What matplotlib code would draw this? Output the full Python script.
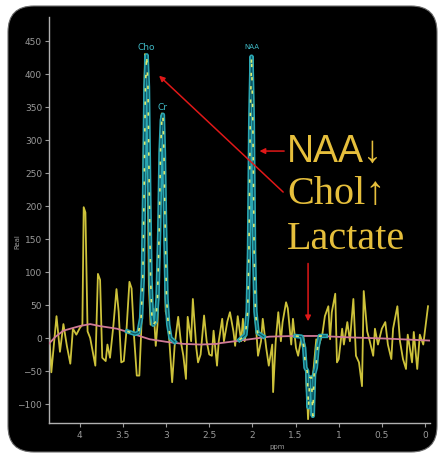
import matplotlib
matplotlib.use("Agg")
import matplotlib.pyplot as plt
from matplotlib.patches import FancyBboxPatch

# measured spectrum (ppm, real)
data_ppm = [4.37, 4.33, 4.27, 4.23, 4.19, 4.15, 4.11, 4.08, 4.04, 4.00, 3.97, 3.955, 3.935, 3.91,
            3.88, 3.82, 3.79, 3.765, 3.74, 3.70, 3.68, 3.65, 3.61, 3.575, 3.55, 3.52, 3.49, 3.46,
            3.425, 3.40, 3.37, 3.34, 3.31, 3.29, 3.275, 3.26, 3.245, 3.23, 3.215, 3.20, 3.18,
            3.16, 3.145, 3.12, 3.10, 3.08, 3.065, 3.05, 3.035, 3.02, 3.005, 2.98, 2.93, 2.90,
            2.86, 2.83, 2.80, 2.77, 2.75, 2.71, 2.69, 2.65, 2.63, 2.60, 2.56, 2.53, 2.50, 2.47,
            2.45, 2.41, 2.39, 2.35, 2.33, 2.29, 2.26, 2.22, 2.20, 2.17, 2.13, 2.11, 2.09, 2.07,
            2.045, 2.025, 2.01, 1.995, 1.98, 1.965, 1.935, 1.90, 1.88, 1.84, 1.81, 1.77, 1.76,
            1.73, 1.70, 1.67, 1.65, 1.61, 1.59, 1.55, 1.53, 1.495, 1.47, 1.44, 1.41, 1.39, 1.355,
            1.33, 1.31, 1.30, 1.26, 1.24, 1.19, 1.16, 1.12, 1.10, 1.08, 1.04, 1.02, 1.00, 0.96,
            0.94, 0.90, 0.87, 0.83, 0.80, 0.765, 0.73, 0.71, 0.67, 0.64, 0.60, 0.58, 0.545, 0.50,
            0.46, 0.43, 0.39, 0.37, 0.32, 0.29, 0.255, 0.22, 0.20, 0.15, 0.13, 0.09, 0.06, 0.02,
            -0.035]
data_val = [45, -52, 33, -21, 21, -12, -39, 14, 5, 15, 20, 198, 190, 10,
            0, -42, 97, 88, -30, -35, -10, -30, 20, 74, 40, -37, -35, 10,
            85, 75, 0, -57, -57, 5, 60, 280, 430, 425, 280, 80, 20,
            30, 44, -12, 20, 120, 290, 340, 335, 200, 40, 29, -67, -10,
            32, -5, -27, -62, 32, -5, 59, -15, -37, -25, 34, -5, -25, -27,
            11, -42, -5, 29, -5, 25, 39, 10, -12, 33, -5, 29, -5, 10,
            150, 400, 426, 420, 200, 30, -27, -5, 29, -15, -42, -10, -82,
            -5, 39, -5, 24, 54, 45, -10, 29, -15, -27, -5, 3, -20, -123,
            -73, -118, -60, -2, -15, 5, 33, 48, -2, 39, 67, -37, -32, 14,
            -10, 24, -5, 59, -27, -37, -73, 71, 10, -5, -27, 14, -10, 14,
            24, -10, -32, 14, 48, -5, -32, -47, 5, -37, 9, -47, 5, -10,
            48]

# baseline
base_ppm = [4.36, 4.28, 4.19, 4.00, 3.88, 3.77, 3.57, 3.47, 3.38, 3.19, 3.09, 2.99, 2.80, 2.60,
            2.41, 2.38, 2.09, 1.80, 1.50, 1.22, 0.90, 0.44, -0.058]
base_val = [-9, 2, 11, 18, 21, 18, 14, 10, 6, -2, -4, -6, -9, -10,
            -9, -8, -3, 2, 3, 3, 1, -1, -4]

# fitted peaks
chocr_ppm = [3.45, 3.36, 3.32, 3.29, 3.27, 3.255, 3.24, 3.225, 3.21, 3.195, 3.18, 3.165, 3.15,
             3.12, 3.10, 3.08, 3.065, 3.05, 3.037, 3.025, 3.01, 2.995, 2.975, 2.95, 2.90]
chocr_val = [10, 6, 8, 30, 90, 220, 380, 428, 380, 220, 90, 35, 20,
             25, 60, 160, 280, 330, 338, 280, 160, 60, 20, 0, -6]
naa_ppm = [2.15, 2.08, 2.055, 2.04, 2.025, 2.01, 1.995, 1.98, 1.965, 1.94, 1.87]
naa_val = [-3, 5, 40, 130, 330, 426, 330, 130, 40, 8, 2]
lac_ppm = [1.50, 1.43, 1.40, 1.385, 1.365, 1.35, 1.335, 1.315, 1.30, 1.285, 1.265, 1.245, 1.22, 1.15]
lac_val = [3, 2, -15, -45, -50, -105, -60, -60, -118, -55, -45, -15, 3, 3]

peak_names = ["Cho", "Cr", "NAA"]
peak_pos = [3.225, 3.037, 2.01]
peak_lab_y = [441, 350, 442]
peak_lab_size = [6.5, 6.5, 5]

y_ticks = [-100, -50, 0, 50, 100, 150, 200, 250, 300, 350, 400, 450]
x_ticks = [4, 3.5, 3, 2.5, 2, 1.5, 1, 0.5, 0]
x_labels = ["4", "3.5", "3", "2.5", "2", "1.5", "1", "0.5", "0"]

W, H = 441, 456
fig = plt.figure(figsize=(W / 100, H / 100), dpi=100, facecolor="white")

# black rounded panel behind the axes
panel = FancyBboxPatch((0.08, 0.03), 4.29, 4.46, boxstyle="round,pad=0,rounding_size=0.26",
                       transform=fig.dpi_scale_trans, facecolor="black",
                       edgecolor="#6a6a6a", linewidth=0.8, zorder=-10)
fig.patches.append(panel)

ax = fig.add_axes([49 / W, 1 - 424 / H, (430 - 49) / W, (424 - 18) / H], zorder=1)
ax.set_facecolor("none")
ax.set_xlim(4.357, -0.058)
ax.set_ylim(-128.8, 486)

gray = "#9a9a9a"
for s in ["top", "right"]:
    ax.spines[s].set_visible(False)
for s in ["left", "bottom"]:
    ax.spines[s].set_color("#b0b0b0")
    ax.spines[s].set_linewidth(1.0)
ax.set_yticks(y_ticks)
ax.set_xticks(x_ticks)
ax.set_xticklabels(x_labels)
ax.tick_params(colors=gray, labelsize=6.5, length=3, width=0.8, pad=2)
ax.set_xlabel("ppm", color=gray, fontsize=5)
ax.xaxis.set_label_coords(0.6, -0.05)
ax.set_ylabel("Real", color=gray, fontsize=5)
ax.yaxis.set_label_coords(-0.075, 0.45)

# spectrum, baseline, fit
ax.plot(data_ppm, data_val, color="#cdc23a", lw=1.3, zorder=2)
ax.plot(base_ppm, base_val, color="#d07a96", lw=1.3, zorder=3)
for px, pv in [(chocr_ppm, chocr_val), (naa_ppm, naa_val), (lac_ppm, lac_val)]:
    ax.plot(px, pv, color="#2aa6b2", lw=3.2, zorder=4)
    ax.plot(px, pv, color="#0e5560", lw=0.9, zorder=5)
    ax.plot(px, pv, color="#d8ea70", lw=1.2, ls=(0, (2, 6)), zorder=6)

for name, p, yv, fs in zip(peak_names, peak_pos, peak_lab_y, peak_lab_size):
    ax.text(p, yv, name, color="#3fb8c4", fontsize=fs, ha="center", va="center", zorder=7)

# red arrows
arrow_kw = dict(arrowstyle="-|>", color="#e01818", lw=1.1, mutation_scale=8)
ax.annotate("", xy=(1.95, 283), xytext=(1.60, 283), arrowprops=arrow_kw, zorder=8)
ax.annotate("", xy=(3.105, 400), xytext=(1.62, 218), arrowprops=arrow_kw, zorder=8)
ax.annotate("", xy=(1.355, 21), xytext=(1.355, 117), arrowprops=arrow_kw, zorder=8)

gold = "#e6bf3c"
fig.text(287 / W, 1 - 152 / H, "NAA\u2193", color=gold, fontsize=27,
         family=["Liberation Sans", "DejaVu Sans"], ha="left", va="center", zorder=5)
fig.text(287 / W, 1 - 195 / H, "Chol\u2191", color=gold, fontsize=29,
         family=["Liberation Serif", "DejaVu Serif"], ha="left", va="center", zorder=5)
fig.text(287 / W, 1 - 240 / H, "Lactate", color=gold, fontsize=29,
         family=["Liberation Serif", "DejaVu Serif"], ha="left", va="center", zorder=5)

fig.savefig("out.png", dpi=100, facecolor="white")
